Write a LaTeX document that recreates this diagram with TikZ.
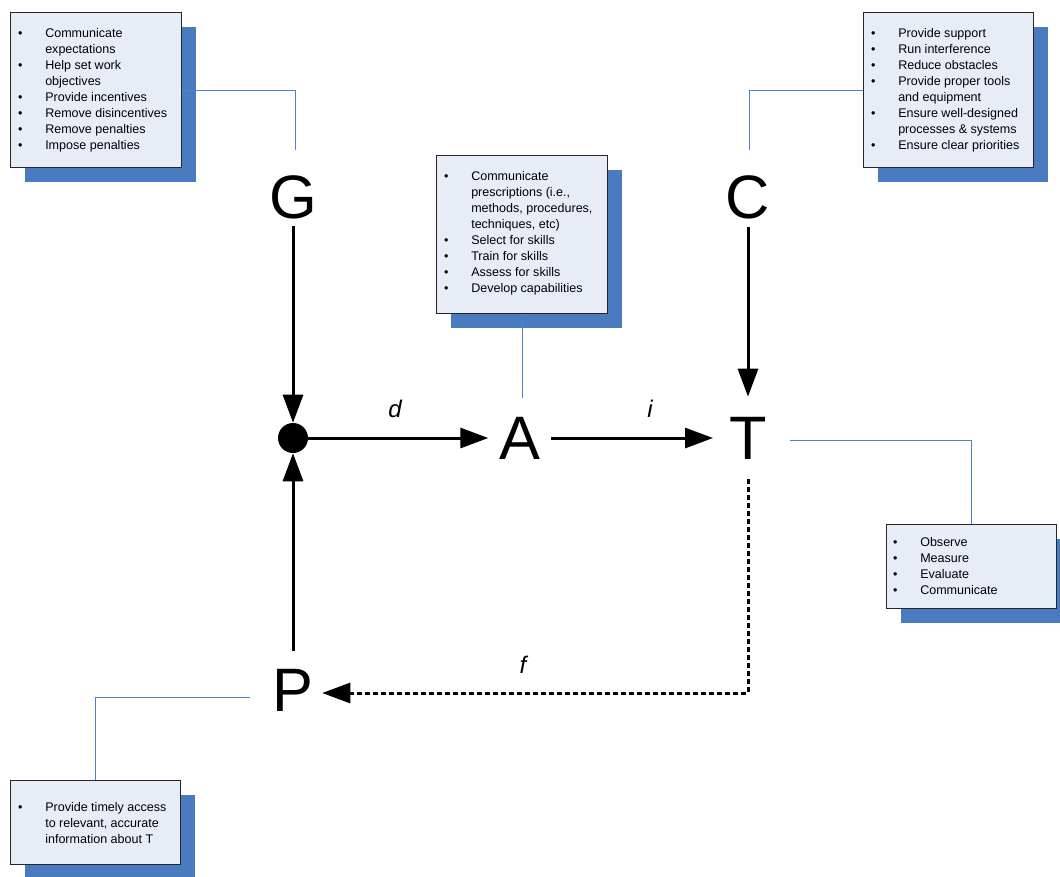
\documentclass[tikz,border=0pt]{standalone}
\usepackage{fontspec}
\setmainfont{Liberation Sans}
\usetikzlibrary{arrows.meta,shadows}
\definecolor{shblue}{RGB}{74,122,192}
\definecolor{boxfill}{RGB}{231,236,246}
\definecolor{connblue}{RGB}{79,129,198}
\newcommand{\bitem}{\llap{\textbullet\hspace{17.1pt}}}
\begin{document}
\begin{tikzpicture}[x=0.75pt,y=-0.75pt,
  card/.style={draw=black!85, line width=0.9pt, fill=boxfill, rectangle, inner sep=0pt, anchor=north west,
     drop shadow={shadow xshift=10.5pt, shadow yshift=-11pt, fill=shblue, opacity=1}},
  cardtext/.style={anchor=base west, inner sep=0pt, font=\fontsize{9.4}{12}\selectfont},
  letter/.style={inner sep=0pt, font=\fontsize{46}{50}\selectfont},
  lbl/.style={inner sep=0pt, font=\fontsize{18}{20}\selectfont\itshape},
  arr/.style={line width=2.25pt, -{Triangle[length=21pt,width=15pt]}},
  conn/.style={draw=connblue, line width=0.75pt}]
\useasboundingbox (0,0) rectangle (1060,876);
\clip (0,0) rectangle (1060,876);

% boxes
\node[card, minimum width=128.25pt, minimum height=116.25pt] (gbox) at (10,12) {};
\node[card, minimum width=127.5pt, minimum height=116.25pt] (cbox) at (863,12) {};
\node[card, minimum width=128.25pt, minimum height=118.5pt] (abox) at (436,155) {};
\node[card, minimum width=127.5pt, minimum height=63pt] (tbox) at (886,524) {};
\node[card, minimum width=127.5pt, minimum height=63pt] (pbox) at (10,780) {};

% box texts
\node[cardtext] (gtext) at (45,37) {\begin{tabular}[t]{@{}l@{}}
\bitem Communicate\\ expectations\\ \bitem Help set work\\ objectives\\
\bitem Provide incentives\\ \bitem Remove disincentives\\ \bitem Remove penalties\\ \bitem Impose penalties
\end{tabular}};
\node[cardtext] (ctext) at (898,37) {\begin{tabular}[t]{@{}l@{}}
\bitem Provide support\\ \bitem Run interference\\ \bitem Reduce obstacles\\
\bitem Provide proper tools\\ and equipment\\ \bitem Ensure well-designed\\ processes \& systems\\
\bitem Ensure clear priorities
\end{tabular}};
\node[cardtext] (atext) at (471,180.5) {\begin{tabular}[t]{@{}l@{}}
\bitem Communicate\\ prescriptions (i.e.,\\ methods, procedures,\\ techniques, etc)\\
\bitem Select for skills\\ \bitem Train for skills\\ \bitem Assess for skills\\ \bitem Develop capabilities
\end{tabular}};
\node[cardtext] (ttext) at (920,546) {\begin{tabular}[t]{@{}l@{}}
\bitem Observe\\ \bitem Measure\\ \bitem Evaluate\\ \bitem Communicate
\end{tabular}};
\node[cardtext] (ptext) at (45,811) {\begin{tabular}[t]{@{}l@{}}
\bitem Provide timely access\\ to relevant, accurate\\ information about T
\end{tabular}};

% letters
\node[letter] (G) at (293,197) {G};
\node[letter] (C) at (748,197) {C};
\node[letter] (A) at (520,438) {A};
\node[letter] (T) at (748,438) {T};
\node[letter] (P) at (293,690) {P};
\node[circle, fill=black, inner sep=0pt, minimum size=22.5pt] (dot) at (293,438) {};

% labels
\node[lbl] (dl) at (395,409) {d};
\node[lbl] (il) at (650,409) {i};
\node[lbl] (fl) at (523,665) {f};

% arrows
\draw[arr, shorten <=5.5pt] (G) -- (dot);
\draw[arr, shorten <=6pt, shorten >=15pt] (C) -- (T);
\draw[arr, shorten >=8.25pt] (dot) -- (A);
\draw[arr, shorten <=7.5pt, shorten >=12pt] (A) -- (T);
\draw[arr, shorten <=13.5pt] (P) -- (dot);
\draw[arr, dash pattern=on 3.6pt off 2.4pt, shorten <=15pt, shorten >=6.4pt] (T) |- ([yshift=-2.25pt]P.east);

% connectors
\coordinate (gtip) at (295,150);
\coordinate (ctip) at (749,150);
\coordinate (atip) at (522,398);
\coordinate (tstart) at (790,440);
\coordinate (pend) at (250,697);
\draw[conn] (gbox.east) -| (gtip);
\draw[conn] (cbox.west) -| (ctip);
\draw[conn] (abox.south) -- (abox.south |- atip);
\draw[conn] (tstart) -| (tbox.north);
\draw[conn] (pbox.north) |- (pend);
\end{tikzpicture}
\end{document}
